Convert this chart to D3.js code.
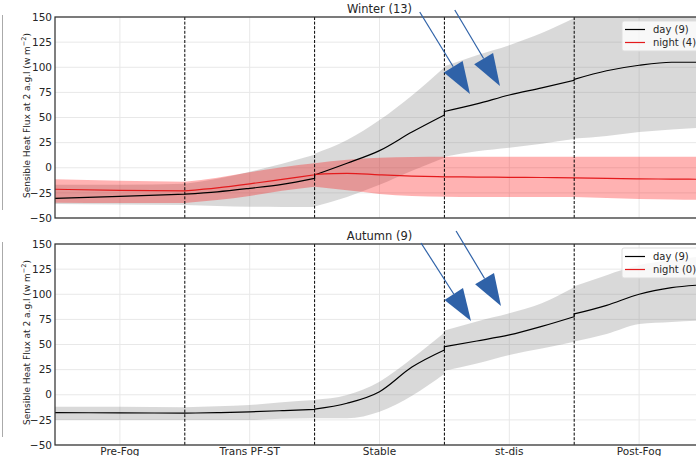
<!DOCTYPE html>
<html>
<head>
<meta charset="utf-8">
<script src="https://cdn.jsdelivr.net/npm/d3@7"></script>
<style>
  body { margin: 0; background: #fff; }
  text { font-family: "DejaVu Sans", sans-serif; fill: #262626; }
</style>
</head>
<body>
<svg id="chart" width="696" height="456"></svg>
<script>
// phases along the x axis (one unit each)
const phases = ['Pre-Fog', 'Trans PF-ST', 'Stable', 'st-dis', 'Post-Fog'];
const phaseBounds = [1, 2, 3, 4];
const yTicks = [-50, -25, 0, 25, 50, 75, 100, 125, 150];

// sample positions (phase units); a repeated position starts a new phase segment
const xs = [0, 0.5, 1,  1, 1.25, 1.5, 1.75, 2,  2, 2.25, 2.5, 2.75, 3,  3, 3.25, 3.5, 3.75, 4,  4, 4.25, 4.5, 4.75, 5];

// Winter (13)
const winterDay     = [-30.4, -28.5, -26.3,  -26.3, -24, -20.5, -16.5, -10.5,  -7.2, 4.5, 17, 35.5, 52.5,  56, 63.5, 72.4, 79.5, 87,  88, 96.5, 102, 105, 105];
const winterDayHi   = [-17, -17, -16,  -16, -11, -4, 4, 13,  14, 27.6, 47.5, 72, 100,  101, 112, 122, 134, 149,  150, 158, 164, 168, 170];
const winterDayLo   = [-36, -36.5, -37,  -37, -38, -38.8, -39, -39,  -38.5, -29, -17, -3, 10,  11, 16.5, 20, 24, 28.5,  29, 31.5, 35.5, 38, 40];
const winterNight   = [-21.4, -22.5, -23,  -23, -20, -16, -11.5, -7,  -6.5, -5.5, -7, -8.3, -9,  -9, -9.3, -9.5, -9.7, -10,  -10, -10.5, -11, -11.3, -11.5];
const winterNightHi = [-11.5, -13, -14,  -14, -10, -4.5, 0.5, 4.4,  4.5, 8, 10, 10.7, 11,  11, 11, 11, 11, 11,  11, 11, 11, 11, 11];
const winterNightLo = [-34.8, -35, -35,  -35, -32, -28, -23, -19,  -19, -22.5, -26, -28, -28.8,  -28.8, -29, -29, -29, -29,  -29, -30, -31, -31.5, -32];

// Autumn (9)
const autumnDay     = [-17.8, -18, -18.3,  -18.3, -17.8, -17, -15.8, -14.5,  -14.3, -8.5, 3, 27.5, 44.5,  47.8, 53.5, 59.5, 68, 77.7,  80.4, 89, 100, 106.5, 109.5];
const autumnDayHi   = [-11.9, -12, -12.5,  -12.5, -11.5, -10.2, -7.5, -5.2,  -5, -0.2, 13, 36, 62,  64, 73, 81, 91, 107,  108, 119, 129, 134, 138];
const autumnDayLo   = [-25.1, -25.1, -25.1,  -25.1, -25.1, -25.1, -24, -23.5,  -23.5, -23.5, -17, -1, 21,  24, 31, 39.6, 46, 52.8,  53, 60.5, 70.4, 72.5, 74];

// annotation arrows: tail -> tip, in data units
const winterArrows = [[2.81, 155, 3.197, 73.4], [3.08, 157, 3.428, 81.3]];
const autumnArrows = [[2.82, 151, 3.205, 73.4], [3.09, 163, 3.436, 88.3]];

const svg = d3.select('#chart');
const x = d3.scaleLinear().domain([0, 5]).range([55, 704]);

// index ranges of each phase segment
const segs = [];
let segStart = 0;
for (let j = 1; j < xs.length; j++) {
  if (xs[j] === xs[j - 1]) { segs.push(d3.range(segStart, j)); segStart = j; }
}
segs.push(d3.range(segStart, xs.length));

const panels = [
  { title: 'Winter (13)', top: 17, bottom: 218, day: [winterDay, winterDayLo, winterDayHi],
    night: [winterNight, winterNightLo, winterNightHi], legend: ['day (9)', 'night (4)'], arrows: winterArrows, xLabels: false },
  { title: 'Autumn (9)', top: 244, bottom: 445, day: [autumnDay, autumnDayLo, autumnDayHi],
    night: null, legend: ['day (9)', 'night (0)'], arrows: autumnArrows, xLabels: true }
];

panels.forEach((p, i) => {
  const y = d3.scaleLinear().domain([-50, 150]).range([p.bottom, p.top]);
  const g = svg.append('g');

  const clipId = 'clip' + i;
  svg.append('clipPath').attr('id', clipId).append('rect')
    .attr('x', x(0)).attr('y', p.top).attr('width', x(5) - x(0)).attr('height', p.bottom - p.top);

  // grid
  g.selectAll('.hg').data(yTicks).enter().append('line')
    .attr('x1', x(0)).attr('x2', x(5)).attr('y1', d => y(d)).attr('y2', d => y(d))
    .attr('stroke', '#e8e8e8').attr('stroke-width', 1);
  g.selectAll('.vg').data(phases).enter().append('line')
    .attr('x1', (d, j) => x(j + 0.5)).attr('x2', (d, j) => x(j + 0.5))
    .attr('y1', p.top).attr('y2', p.bottom)
    .attr('stroke', '#e8e8e8').attr('stroke-width', 1);

  const plot = g.append('g').attr('clip-path', `url(#${clipId})`);
  const area = (lo, hi) => segs.map(s => d3.area().curve(d3.curveMonotoneX)
    .x(j => x(xs[j])).y0(j => y(lo[j])).y1(j => y(hi[j]))(s)).join('');
  const line = vals => segs.map((s, k) => {
    const d = d3.line().curve(d3.curveMonotoneX).x(j => x(xs[j])).y(j => y(vals[j]))(s);
    return k ? 'L' + d.slice(1) : d;
  }).join('');

  plot.append('path').attr('d', area(p.day[1], p.day[2])).attr('fill', 'gray').attr('fill-opacity', 0.3);
  if (p.night) plot.append('path').attr('d', area(p.night[1], p.night[2])).attr('fill', 'red').attr('fill-opacity', 0.3);
  plot.append('path').attr('d', line(p.day[0])).attr('fill', 'none').attr('stroke', '#000').attr('stroke-width', 1.2);
  if (p.night) plot.append('path').attr('d', line(p.night[0])).attr('fill', 'none').attr('stroke', '#e41a1c').attr('stroke-width', 1.2);

  // phase boundaries
  g.selectAll('.pb').data(phaseBounds).enter().append('line')
    .attr('x1', d => x(d)).attr('x2', d => x(d)).attr('y1', p.top).attr('y2', p.bottom)
    .attr('stroke', '#000').attr('stroke-width', 1).attr('stroke-dasharray', '3,1.6');

  // frame
  g.append('rect').attr('x', x(0)).attr('y', p.top).attr('width', x(5) - x(0)).attr('height', p.bottom - p.top)
    .attr('fill', 'none').attr('stroke', '#333').attr('stroke-width', 1.25);

  // y axis labels
  g.selectAll('.yt').data(yTicks).enter().append('text')
    .attr('x', x(0) - 3).attr('y', d => y(d)).attr('dy', '0.35em')
    .attr('text-anchor', 'end').style('font-size', '10.5px')
    .text(d => d3.format('d')(d));

  g.append('text')
    .attr('transform', `translate(27,${(p.top + p.bottom) / 2 - 2}) rotate(-90)`)
    .attr('text-anchor', 'middle').attr('dy', '0.35em').style('font-size', '9px')
    .html('Sensible Heat Flux at 2 a.g.l (w m<tspan dy="-4" font-size="6.5px">\u22122</tspan><tspan dy="4">)</tspan>');

  if (p.xLabels) {
    g.selectAll('.xt').data(phases).enter().append('text')
      .attr('x', (d, j) => x(j + 0.5)).attr('y', p.bottom + 10)
      .attr('text-anchor', 'middle').style('font-size', '10.5px').text(d => d);
  }

  g.append('text').attr('x', x(2.5)).attr('y', p.top - 4)
    .attr('text-anchor', 'middle').style('font-size', '11.5px').text(p.title);

  // legend
  const lg = g.append('g').attr('transform', `translate(622,${p.top + 4})`);
  lg.append('rect').attr('width', 90).attr('height', 30).attr('rx', 2)
    .attr('fill', '#fff').attr('fill-opacity', 0.8).attr('stroke', '#ddd');
  [['#000', p.legend[0]], ['#e41a1c', p.legend[1]]].forEach((e, k) => {
    const ly = 8.5 + k * 13;
    lg.append('line').attr('x1', 3).attr('x2', 23).attr('y1', ly).attr('y2', ly)
      .attr('stroke', e[0]).attr('stroke-width', 1.2);
    lg.append('text').attr('x', 31).attr('y', ly).attr('dy', '0.35em')
      .style('font-size', '10px').text(e[1]);
  });

  // arrows
  p.arrows.forEach(a => {
    const tx = x(a[0]), ty = y(a[1]), hx = x(a[2]), hy = y(a[3]);
    const len = Math.hypot(hx - tx, hy - ty);
    const ux = (hx - tx) / len, uy = (hy - ty) / len;
    const headLen = 32, half = 11;
    const bx = hx - ux * headLen, by = hy - uy * headLen;
    svg.append('line').attr('x1', tx).attr('y1', ty).attr('x2', bx).attr('y2', by)
      .attr('stroke', '#2f62a8').attr('stroke-width', 1.2);
    svg.append('path')
      .attr('d', `M${hx},${hy}L${bx - uy * half},${by + ux * half}L${bx + uy * half},${by - ux * half}Z`)
      .attr('fill', '#2f62a8');
  });

  // stray grey line at the left edge
  svg.append('line').attr('x1', 2.5).attr('x2', 2.5).attr('y1', p.top - 2).attr('y2', p.bottom - 8)
    .attr('stroke', '#aaa').attr('stroke-width', 1);
});
</script>
</body>
</html>
